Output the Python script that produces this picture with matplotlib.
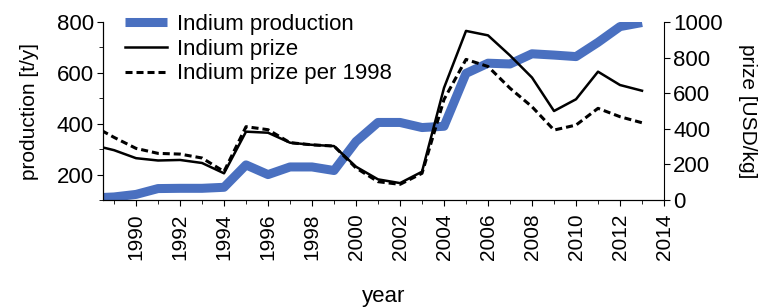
import matplotlib
matplotlib.use("Agg")
import matplotlib.pyplot as plt
from matplotlib.ticker import MultipleLocator

plt.rcParams["font.family"] = ["Liberation Sans", "DejaVu Sans"]

# data
years = [1988, 1989, 1990, 1991, 1992, 1993, 1994, 1995, 1996, 1997, 1998, 1999,
         2000, 2001, 2002, 2003, 2004, 2005, 2006, 2007, 2008, 2009, 2010, 2011,
         2012, 2013]

production = [108, 112, 122, 145, 146, 146, 150, 238, 200, 230, 230, 216,
              330, 405, 405, 385, 390, 598, 638, 635, 675, 670, 664, 720,
              782, 798]

prize = [310, 280, 235, 222, 225, 208, 150, 384, 378, 322, 310, 303,
         187, 116, 95, 159, 630, 950, 925, 812, 688, 500, 566, 721,
         646, 614]

prize_1998 = [420, 352, 290, 262, 258, 236, 160, 412, 395, 322, 310, 303,
              180, 103, 88, 150, 565, 790, 750, 628, 524, 393, 421, 515,
              468, 434]

azul = "#4a70c0"

fig = plt.figure(figsize=(7.62, 3.07), dpi=100)
ax = fig.add_axes([0.1352, 0.3485, 0.7362, 0.5798])
ax2 = ax.twinx()

l1, = ax.plot(years, production, color=azul, linewidth=6.5, solid_capstyle="butt",
              label="Indium production")
l2, = ax2.plot(years, prize, color="black", linewidth=1.8, label="Indium prize")
l3, = ax2.plot(years, prize_1998, color="black", linewidth=2.2, linestyle=(0, (2.3, 1.3)),
               label="Indium prize per 1998")

ax.set_xlim(1988.5, 2014)
ax.set_ylim(100, 800)
ax2.set_ylim(0, 1000)

ax.set_xticks(range(1990, 2015, 2))
ax.xaxis.set_minor_locator(MultipleLocator(1))
ax.set_yticks([200, 400, 600, 800])
ax.yaxis.set_minor_locator(MultipleLocator(100))
ax2.set_yticks(range(0, 1001, 200))

for eixo in (ax, ax2):
    eixo.spines["top"].set_visible(False)
    eixo.tick_params(which="major", length=4.5, width=0.8, labelsize=16, pad=2)
    eixo.tick_params(which="minor", length=3, width=0.6)

ax.tick_params(axis="x", labelrotation=90, labelsize=15, pad=5)
ax.spines["right"].set_visible(False)

ax.set_xlabel("year", fontsize=16, labelpad=19)
ax.set_ylabel("production [t/y]", fontsize=15, labelpad=13)
ax2.set_ylabel("prize [USD/kg]", fontsize=15, rotation=270, labelpad=25)

fig.legend(handles=[l1, l2, l3], loc="upper left", bbox_to_anchor=(0.164, 0.955),
           frameon=False, fontsize=16, handlelength=1.9, handletextpad=0.44,
           labelspacing=0.17, borderaxespad=0, borderpad=0)

fig.savefig("out.png", dpi=100)
